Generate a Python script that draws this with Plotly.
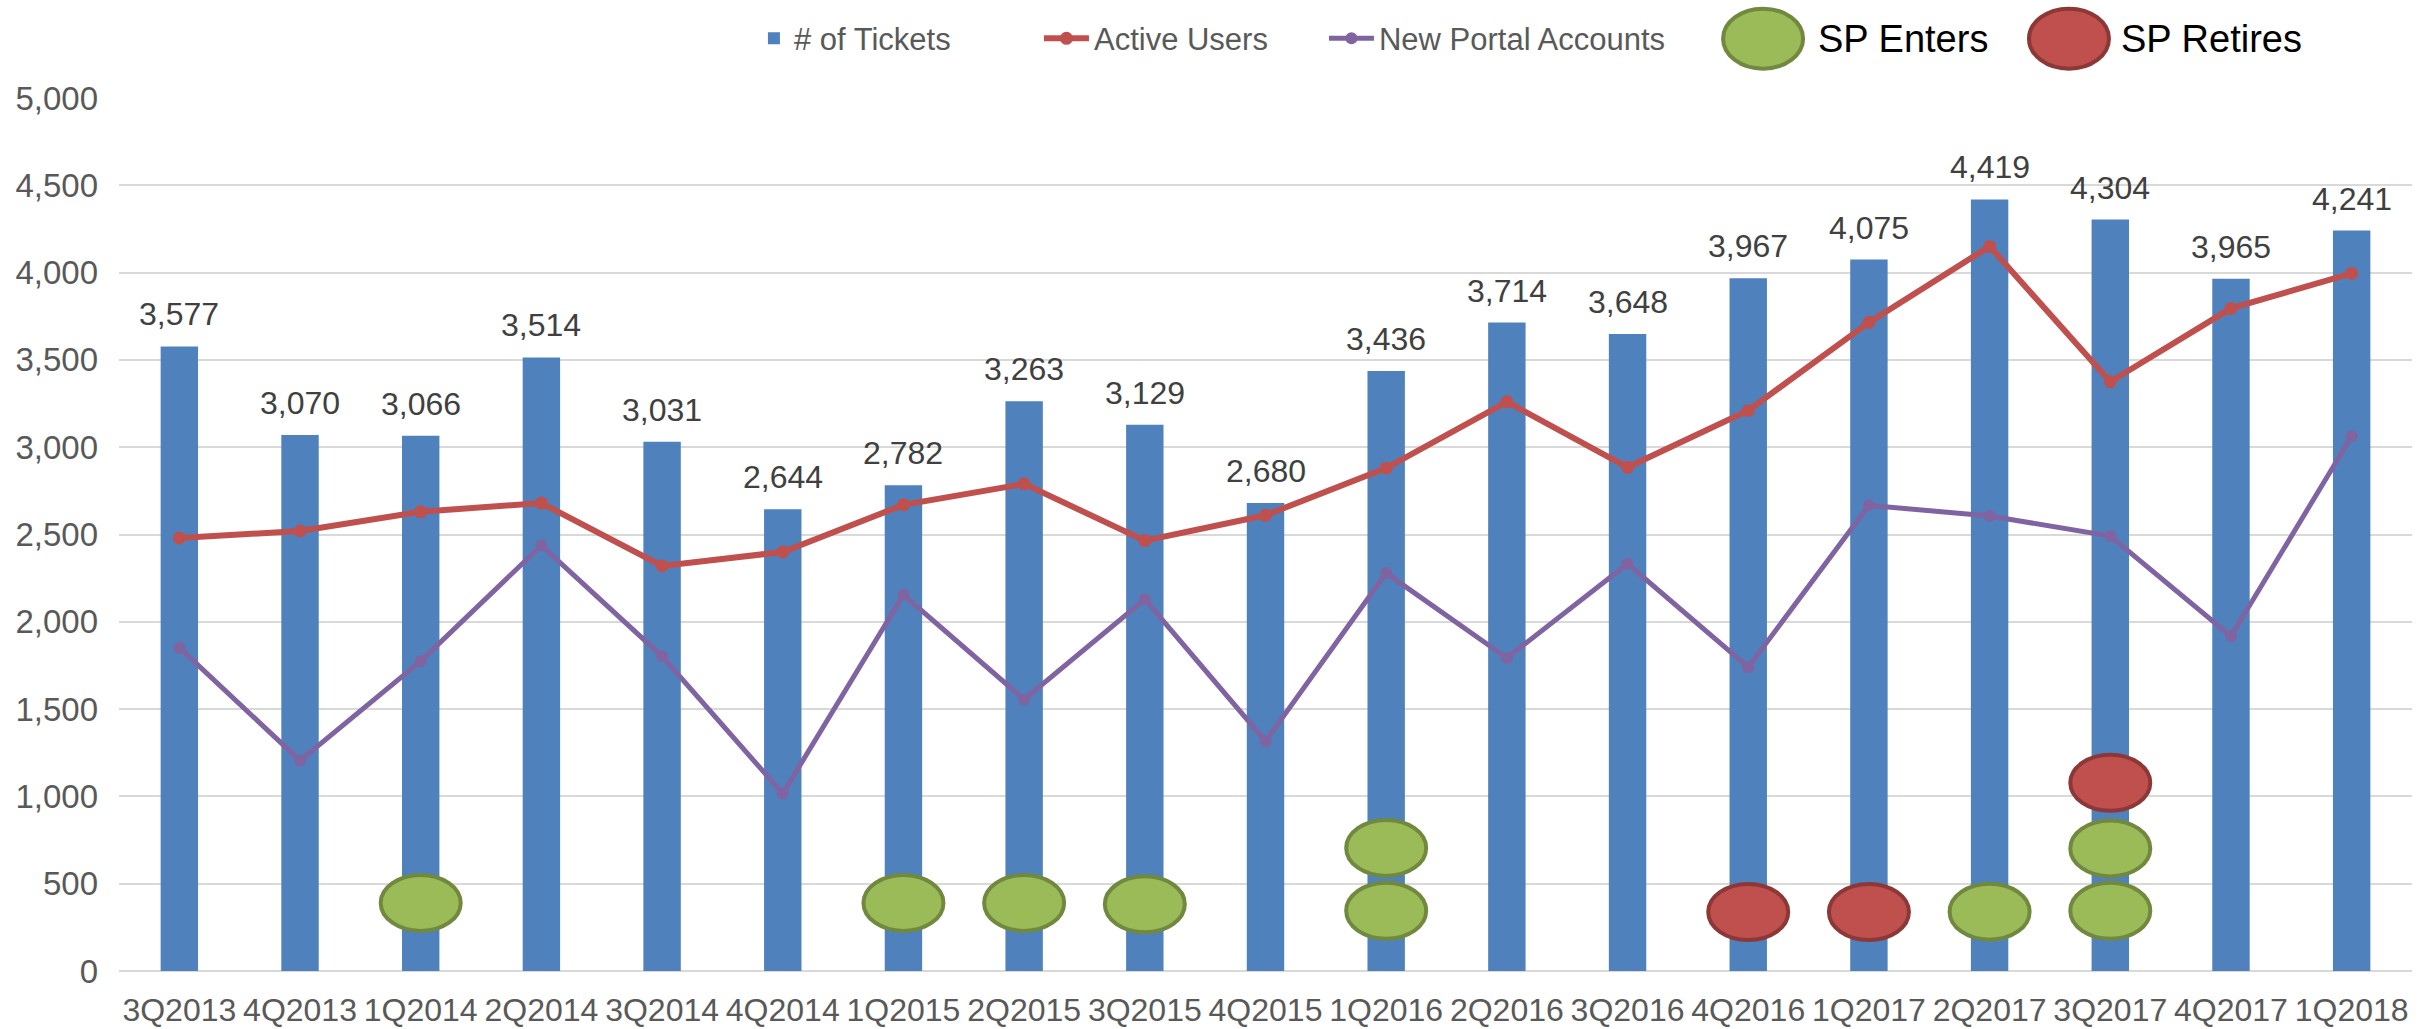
import plotly.graph_objects as go

categories = ["3Q2013", "4Q2013", "1Q2014", "2Q2014", "3Q2014", "4Q2014", "1Q2015",
              "2Q2015", "3Q2015", "4Q2015", "1Q2016", "2Q2016", "3Q2016", "4Q2016",
              "1Q2017", "2Q2017", "3Q2017", "4Q2017", "1Q2018"]
tickets = [3577, 3070, 3066, 3514, 3031, 2644, 2782, 3263, 3129, 2680, 3436, 3714,
           3648, 3967, 4075, 4419, 4304, 3965, 4241]
active_users = [2480, 2520, 2630, 2680, 2320, 2400, 2670, 2790, 2465, 2610, 2880, 3260,
                2885, 3210, 3715, 4150, 3375, 3795, 3995]
new_portal = [1852, 1205, 1775, 2438, 1802, 1016, 2155, 1555, 2129, 1316, 2279, 1793,
              2332, 1740, 2667, 2606, 2491, 1917, 3063]
sp_enters_cats = ["1Q2014", "1Q2015", "2Q2015", "3Q2015", "1Q2016", "1Q2016",
                  "2Q2017", "3Q2017", "3Q2017"]
sp_enters_vals = [390, 390, 390, 382, 705, 345, 340, 702, 345]
sp_retires_cats = ["4Q2016", "1Q2017", "3Q2017"]
sp_retires_vals = [338, 338, 1078]
y_ticks = [0, 500, 1000, 1500, 2000, 2500, 3000, 3500, 4000, 4500, 5000]

FONT = "Liberation Sans, Arial, sans-serif"
BLUE = "#4f81bd"
RED = "#c0504d"
PURPLE = "#8064a2"
GREEN_FILL = "#9bbb59"
GREEN_LINE = "#71893f"
RED_LINE = "#8c3836"
FS = 32

fig = go.Figure()
fig.add_trace(go.Bar(x=categories, y=tickets, name="# of Tickets", legend="legend",
                     marker=dict(color=BLUE, line=dict(width=0)), width=0.31))
fig.add_trace(go.Scatter(x=categories, y=active_users, name="Active Users",
                         legend="legend2", mode="lines+markers",
                         line=dict(color=RED, width=6),
                         marker=dict(color=RED, size=13)))
fig.add_trace(go.Scatter(x=categories, y=new_portal, name="New Portal Accounts",
                         legend="legend3", mode="lines+markers",
                         line=dict(color=PURPLE, width=5),
                         marker=dict(color=PURPLE, size=12)))

annotations = []
for c, v in zip(categories, tickets):
    annotations.append(dict(x=c, y=v, text=f"{v:,}", showarrow=False,
                            yanchor="bottom", yshift=12,
                            font=dict(family=FONT, size=FS, color="#404040")))

shapes = []
def ellipse(cat, val, fill, line):
    return dict(type="circle", xref="x", yref="y",
                xsizemode="pixel", ysizemode="pixel",
                xanchor=categories.index(cat), yanchor=val,
                x0=-40, x1=40, y0=-28, y1=28,
                fillcolor=fill, line=dict(color=line, width=4), layer="above")

for c, v in zip(sp_enters_cats, sp_enters_vals):
    shapes.append(ellipse(c, v, GREEN_FILL, GREEN_LINE))
for c, v in zip(sp_retires_cats, sp_retires_vals):
    shapes.append(ellipse(c, v, RED, RED_LINE))

# Custom legend entries for SP markers
legend_y = 1.068
for xc, fill, line, label, xt in [(0.7170, GREEN_FILL, GREEN_LINE, "SP Enters", 0.7401),
                                  (0.8504, RED, RED_LINE, "SP Retires", 0.8723)]:
    shapes.append(dict(type="circle", xref="paper", yref="paper",
                       xsizemode="pixel", ysizemode="pixel",
                       xanchor=xc, yanchor=legend_y,
                       x0=-40, x1=40, y0=-30, y1=30,
                       fillcolor=fill, line=dict(color=line, width=4)))
    annotations.append(dict(x=xt, y=legend_y, xref="paper", yref="paper",
                            text=label, showarrow=False, xanchor="left",
                            yanchor="middle",
                            font=dict(family=FONT, size=38, color="#000000")))

legend_common = dict(orientation="h", y=legend_y, xanchor="left", yanchor="middle",
                     font=dict(family=FONT, size=31, color="#595959"),
                     bgcolor="rgba(0,0,0,0)")

fig.update_layout(
    width=2433, height=1029,
    margin=dict(l=119, r=21, t=93, b=58),
    paper_bgcolor="white", plot_bgcolor="white",
    font=dict(family=FONT, size=FS, color="#595959"),
    showlegend=True,
    legend=dict(x=0.2769, itemwidth=30, **legend_common),
    legend2=dict(x=0.4012, itemwidth=45, **legend_common),
    legend3=dict(x=0.5255, itemwidth=45, **legend_common),
    bargap=0.69,
    xaxis=dict(type="category", range=[-0.5, 18.5], autorange=False,
               showgrid=False, showline=False, ticks="", automargin=False,
               tickfont=dict(family=FONT, size=FS, color="#595959"),
               ticklabelstandoff=17),
    yaxis=dict(range=[0, 5000], autorange=False, tickvals=y_ticks, tickformat=",d",
               showgrid=True, gridcolor="#d9d9d9", gridwidth=2,
               zeroline=True, zerolinecolor="#d9d9d9", zerolinewidth=2,
               showline=False, ticks="", automargin=False,
               tickfont=dict(family=FONT, size=33, color="#595959"),
               ticklabelstandoff=20),
    annotations=annotations,
    shapes=shapes,
)

fig.write_html("out.html", config={"displayModeBar": False},
               post_script="document.body.style.margin='0';")
